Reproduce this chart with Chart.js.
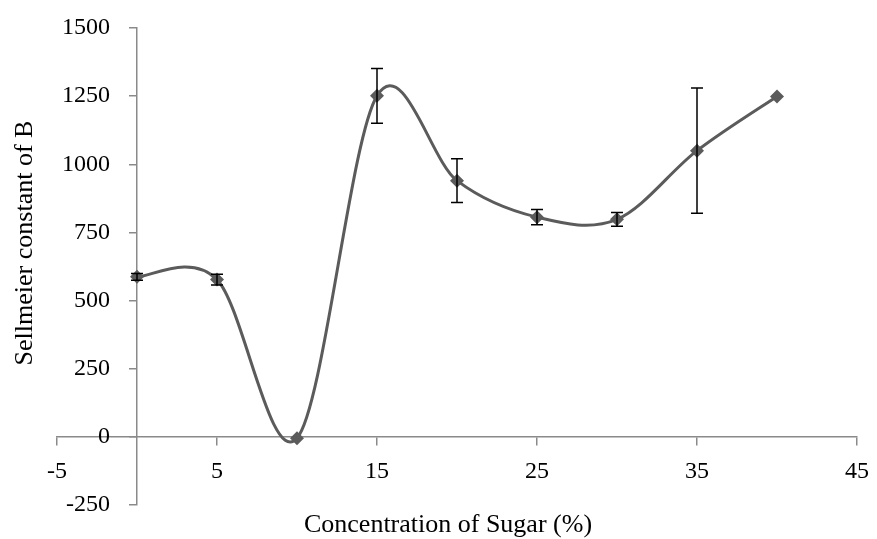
<!DOCTYPE html>
<html>
<head>
<meta charset="utf-8">
<script src="https://cdn.jsdelivr.net/npm/chart.js@4/dist/chart.umd.min.js"></script>
<style>
  html, body { margin: 0; padding: 0; background: #ffffff; }
  #wrap { width: 877px; height: 539px; position: relative; }
</style>
</head>
<body>
<div id="wrap"><canvas id="c"></canvas></div>
<script>
// ---- data ----
const sugarConcentration = [0, 5, 10, 15, 20, 25, 30, 35, 40];
const sellmeierB = [587, 577, -5, 1251, 940, 806, 798, 1050, 1249];
const errorB = [12, 20, 0, 100, 80, 28, 25, 230, 0];
const xTitle = 'Concentration of Sugar (%)';
const yTitle = 'Sellmeier constant of B';

const points = sugarConcentration.map((x, i) => ({ x: x, y: sellmeierB[i] }));

const serif = '"Liberation Serif", "Times New Roman", serif';

// Excel-style smoothing (uniform Catmull-Rom control points) on the library's point elements
const smoothPlugin = {
  id: 'excelSmooth',
  beforeDatasetsDraw(chart) {
    const meta = chart.getDatasetMeta(0);
    if (meta.dataset && typeof meta.dataset.updateControlPoints === 'function') {
      meta.dataset.updateControlPoints(chart.chartArea, 'x');
    }
    const pts = meta.data;
    const n = pts.length;
    for (let i = 0; i < n; i++) {
      const p = pts[i];
      const prev = pts[Math.max(i - 1, 0)];
      const next = pts[Math.min(i + 1, n - 1)];
      const dx = (next.x - prev.x) / 6, dy = (next.y - prev.y) / 6;
      p.cp1x = p.x - dx; p.cp1y = p.y - dy;
      p.cp2x = p.x + dx; p.cp2y = p.y + dy;
    }
  }
};

// move y tick labels left of the tick marks (axis is positioned at x = 0)
const yLabelShiftPlugin = {
  id: 'yLabelShift',
  beforeDraw(chart) {
    const ys = chart.scales.y;
    if (typeof ys.getLabelItems !== 'function') return;
    const items = ys.getLabelItems(chart.chartArea);
    if (items && !items._shifted) {
      items.forEach(it => { it.options.translation[0] -= 27; });
      items._shifted = true;
    }
  }
};

const errorBarPlugin = {
  id: 'errorBars',
  afterDatasetsDraw(chart) {
    const ctx = chart.ctx;
    const xs = chart.scales.x, ys = chart.scales.y;
    ctx.save();
    ctx.strokeStyle = '#000000';
    ctx.lineWidth = 1.5;
    sugarConcentration.forEach((x, i) => {
      const e = errorB[i];
      if (!e) return;
      const px = xs.getPixelForValue(x);
      const top = ys.getPixelForValue(sellmeierB[i] + e);
      const bot = ys.getPixelForValue(sellmeierB[i] - e);
      ctx.beginPath();
      ctx.moveTo(px, top); ctx.lineTo(px, bot);
      ctx.moveTo(px - 6, top); ctx.lineTo(px + 6, top);
      ctx.moveTo(px - 6, bot); ctx.lineTo(px + 6, bot);
      ctx.stroke();
    });
    ctx.restore();
  }
};

const titlesPlugin = {
  id: 'axisTitles',
  afterDraw(chart) {
    const ctx = chart.ctx;
    ctx.save();
    ctx.fillStyle = '#000000';
    ctx.font = '26px ' + serif;
    ctx.textAlign = 'center';
    ctx.textBaseline = 'alphabetic';
    ctx.fillText(xTitle, 448, 532);
    ctx.translate(32, 243);
    ctx.rotate(-Math.PI / 2);
    ctx.fillText(yTitle, 0, 0);
    ctx.restore();
  }
};

new Chart(document.getElementById('c'), {
  type: 'line',
  data: {
    datasets: [{
      data: points,
      borderColor: '#5b5b5b',
      backgroundColor: '#5b5b5b',
      borderWidth: 3,
      tension: 0.4,
      pointStyle: 'rectRot',
      pointRadius: 7,
      pointBorderWidth: 0,
      pointHoverRadius: 7,
      fill: false
    }]
  },
  options: {
    responsive: true,
    maintainAspectRatio: false,
    animation: false,
    events: [],
    layout: { padding: { left: 57, right: 20, top: 28, bottom: 34 } },
    plugins: { legend: { display: false }, tooltip: { enabled: false } },
    scales: {
      x: {
        type: 'linear',
        position: { y: 0 },
        min: -5, max: 45,
        ticks: { stepSize: 10, color: '#000000', font: { family: serif, size: 24, lineHeight: 2.03 }, padding: 2, maxRotation: 0 },
        grid: { drawOnChartArea: false, drawTicks: true, tickLength: 8, color: '#8a8a8a', lineWidth: 1.5 },
        border: { color: '#8a8a8a', width: 1.5 }
      },
      y: {
        type: 'linear',
        position: { x: 0 },
        min: -250, max: 1500,
        ticks: { stepSize: 250, color: '#000000', font: { family: serif, size: 24 }, padding: 0,
                 callback: v => String(v) },
        grid: { drawOnChartArea: false, drawTicks: true, tickLength: 7, color: '#8a8a8a', lineWidth: 1.5 },
        border: { color: '#8a8a8a', width: 1.5 }
      }
    }
  },
  plugins: [smoothPlugin, yLabelShiftPlugin, errorBarPlugin, titlesPlugin]
});
</script>
</body>
</html>
